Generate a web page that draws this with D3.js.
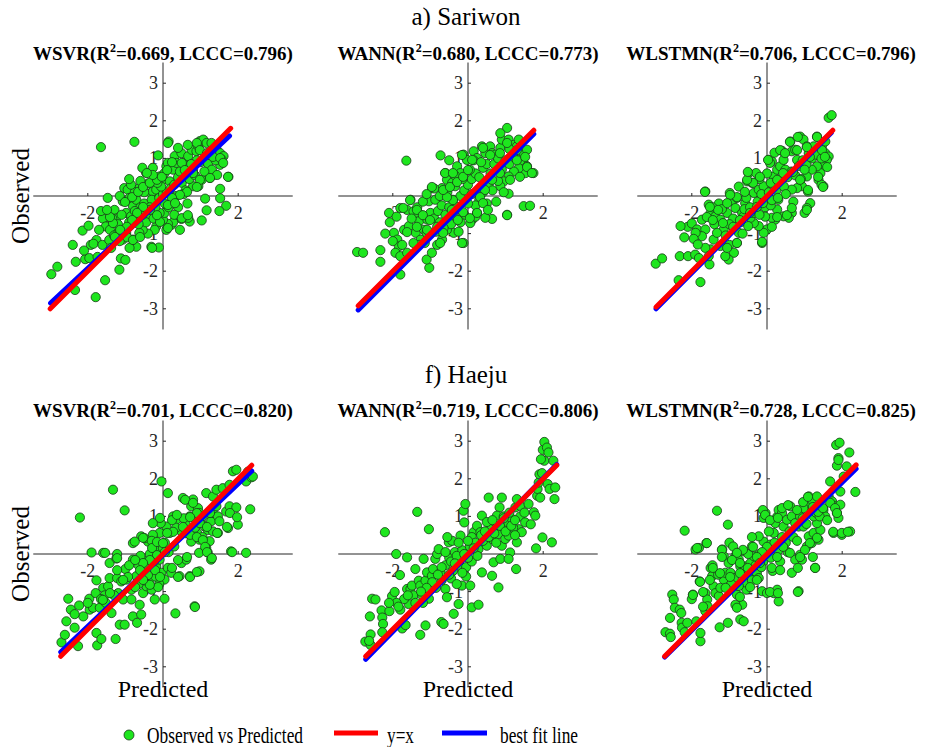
<!DOCTYPE html>
<html>
<head>
<meta charset="utf-8">
<script src="https://cdn.jsdelivr.net/npm/d3@7"></script>
<style>
body { margin:0; background:#fff; }
svg { display:block; font-family:"Liberation Serif","Times New Roman",serif; }
</style>
</head>
<body>
<svg id="chart" width="926" height="747"></svg>
<script>
// station headings and model names
var stations = ["a) Sariwon", "f) Haeju"]
var models = ["WSVR", "WANN", "WLSTMN"]
var r2 = [["0.669","0.680","0.706"], ["0.701","0.719","0.728"]]
var lccc = [["0.796","0.773","0.796"], ["0.820","0.806","0.825"]]

var xTicks = [-2, 0, 2]
var yTicks = [-3, -2, -1, 0, 1, 2, 3]

// [predicted, observed] pairs
var sariwonWSVR = [[-2.97,-2.08],[-2.81,-1.88],[-2.34,-2.5],[-1.79,-2.69],[-1.54,-2.24],[-2.32,-1.75],[-2.07,-1.68],[-1.96,-1.65],[-1.74,-1.62],[-2.14,-0.92],[-1.98,-0.79],[-1.77,-1.17],[-1.92,-1.3],[-1.85,-1.27],[-1.61,-1.3],[-1.56,-0.59],[-1.47,-0.05],[-1.6,-0.6],[-1.52,-0.81],[-1.41,-0.9],[-1.29,-0.37],[-1.25,-0.6],[-1.43,-1.17],[-1.38,-1.38],[-1.16,-1.96],[-1.12,-1.66],[-1.0,-1.7],[-1.03,0.21],[-0.94,0.17],[-1.07,-0.14],[-0.98,-0.45],[-0.85,-0.54],[-0.89,-0.05],[-0.8,-0.27],[-0.71,-0.1],[-0.63,0.21],[-0.45,0.62],[-0.4,0.33],[-0.31,0.08],[-0.27,0.12],[-0.18,0.17],[-0.27,0.75],[-0.13,1.08],[-0.09,0.52],[0,0.43],[0.04,0.61],[0.09,0.79],[0.13,0.88],[0.18,0.39],[0.27,0.7],[0.31,1.06],[0.36,0.88],[0.49,1.14],[0.54,0.88],[0.58,0.79],[0.62,0.61],[0.67,1.06],[0.76,1.23],[0.8,0.7],[0.89,1.19],[0.94,1.32],[0.98,1.46],[1.07,1.5],[1.16,1.41],[1.29,1.41],[1.34,1.1],[1.43,1.23],[1.52,1.14],[1.61,1.06],[1.52,0.83],[1.56,0.97],[1.74,0.51],[1.38,0.57],[1.25,0.48],[1.03,0.43],[0.94,0.26],[0.8,0.26],[1.52,0.19],[1.52,-0.06],[1.68,-0.26],[1.12,-0.07],[1.16,-0.38],[1.03,-0.65],[0.71,-0.68],[0.67,-0.58],[0.49,-0.61],[0.45,-0.9],[0.22,-0.77],[0.27,-0.7],[0.13,-0.74],[0.09,-0.9],[0,-0.63],[0.04,-0.45],[-0.09,-0.45],[-0.18,-0.81],[-0.22,-0.9],[-0.31,-1.35],[-0.11,-1.37],[-0.4,-1.0],[-0.54,-0.9],[-0.63,-0.98],[-0.71,-1.35],[-0.8,-1.16],[-0.89,-1.38],[-0.98,-0.98],[-1.07,-1.16],[-1.2,-0.98],[-0.6,-0.3],[-0.5,-0.2],[-0.4,-0.4],[-0.3,-0.1],[-0.2,-0.3],[-0.1,-0.05],[0,0.05],[0.1,0.1],[0.2,0.2],[0.3,0.3],[0.4,0.5],[0.5,0.35],[0.35,0.0],[0.25,-0.15],[0.15,-0.3],[0.05,-0.2],[-0.05,0.25],[-0.15,0.35],[-0.35,-0.55],[-0.45,-0.7],[-0.55,-0.5],[-0.7,-0.6],[-0.75,-0.4],[-0.65,-0.75],[-0.9,-0.7],[-1.1,-0.5],[-1.2,-0.75],[-1.3,-1.05],[-1.15,-1.2],[-0.95,-1.1],[-0.5,0.1],[-0.6,0.4],[-0.75,0.1],[-0.85,0.3],[-1.15,0.0],[0.6,0.15],[0.7,0.45],[0.85,0.55],[1.0,0.9],[1.1,1.0],[1.2,0.85],[1.3,0.7],[1.4,0.95],[1.1,0.65],[0.9,0.95],[0.75,0.85],[0.45,0.65],[0.55,0.05],[0.65,-0.2],[0.4,-0.3],[0.3,-0.5],[-0.25,-0.6],[-0.35,-0.3],[-2.4,-1.3],[-2.1,-1.45],[-1.7,-0.9],[-1.65,-0.4],[-1.35,-0.6],[-0.9,0.45],[-0.55,0.75],[-1.65,1.3],[-0.76,1.44],[0.15,1.45],[1.5,-0.4],
	[0.13,1.41],[0.4,1.28],[0.66,1.36],[0.9,1.41],[0.98,1.22],[1.17,1.14],[1.33,1.04],[1.52,1.01],[1.6,0.88],[1.73,0.51],[1.44,0.56],[1.25,0.48],[0.98,0.43],[0.9,0.24],[0.64,0.11],[0.45,0.03],[0.24,-0.05],[0.13,-0.24],[0.32,-0.19],[0.5,-0.59],[0.66,-0.51],[0.13,-0.85],[-0.08,-0.69],[-0.16,-0.51],[-0.35,-0.37],[-0.53,-0.29],[-0.69,-0.45],[-0.82,-0.64],[-0.96,-0.82],[-1.14,-0.9],[-1.33,-0.72],[-1.41,-0.56],[-1.49,-0.37],[-1.01,-0.16],[-0.82,-0.03],[-0.66,0.11],[-0.53,0.24],[-0.35,0.35],[-0.16,0.43],[-0.03,0.51],[-0.27,0.56],[-0.43,0.61],[0.11,0.69],[0.24,0.9],[0.5,0.88],[0.58,0.69],[0.8,0.61],[-0.8,-1.17],[-0.61,-1.09],[-0.29,-1.38],[-1.28,-1.09]]

var sariwonWANN = [[-2.95,-1.49],[-2.79,-1.51],[-2.33,-1.44],[-2.33,-1.75],[-2.08,-0.7],[-1.64,0.94],[-0.73,1.08],[-1.8,-2.09],[-1.03,-1.91],[-1.1,-1.69],[-1.53,-0.1],[-1.8,-0.32],[-1.62,-0.37],[-1.45,-0.41],[-1.32,-0.45],[-1.97,-0.98],[-1.88,-1.16],[-1.84,-1.34],[-1.93,-1.51],[-1.8,-1.6],[-1.62,-1.51],[-1.7,-0.9],[-1.57,-0.8],[-1.39,-0.98],[-1.26,-1.16],[-1.17,-0.9],[-1.3,-0.67],[-1.08,-0.63],[-1.0,-0.45],[-1.04,-0.14],[-0.87,-0.1],[-0.96,0.21],[-0.69,0.21],[-0.6,0.61],[-0.56,0.43],[-0.42,0.35],[-0.34,0.26],[-0.29,0.79],[-0.2,0.61],[-0.12,1.1],[-0.03,0.96],[0.15,1.19],[0.24,1.01],[0.37,1.32],[0.46,1.14],[0.59,1.32],[0.64,1.14],[0.73,1.1],[0.86,1.28],[0.9,1.5],[1.04,1.81],[0.86,1.67],[1.08,1.5],[1.22,1.36],[1.3,1.32],[1.39,1.19],[1.48,1.14],[1.57,1.23],[1.48,0.88],[1.57,0.79],[1.53,0.61],[1.74,0.61],[1.35,0.74],[1.22,0.65],[1.08,0.52],[0.95,0.39],[0.86,0.26],[1.08,0.06],[1.04,-0.5],[1.48,-0.27],[1.65,-0.26],[0.64,-0.61],[0.46,-0.58],[0.24,-0.45],[0.11,-0.63],[0.06,-0.72],[-0.12,-1.25],[-0.38,-0.98],[-0.56,-0.9],[-0.69,-1.16],[-0.82,-1.3],[-0.96,-1.51],[-1.1,-0.98],[-0.9,-0.6],[-0.8,-0.4],[-0.7,-0.25],[-0.6,-0.5],[-0.5,-0.3],[-0.4,-0.1],[-0.3,-0.35],[-0.2,0.0],[-0.1,0.15],[0,0.3],[0.1,0.45],[0.2,0.6],[0.3,0.5],[0.4,0.75],[0.5,0.85],[0.6,0.6],[0.7,0.85],[0.8,1.0],[0.9,0.7],[1.0,0.95],[1.1,0.85],[1.2,1.05],[1.3,0.95],[0.55,0.3],[0.4,0.1],[0.3,-0.1],[0.2,-0.25],[0.1,0.05],[0.0,-0.2],[-0.1,-0.5],[-0.2,-0.7],[-0.3,-0.6],[-0.45,-0.75],[-0.65,-0.85],[-0.75,-0.7],[-0.85,-0.95],[-1.0,-1.0],[-1.15,-1.25],[-1.3,-1.3],[-1.45,-1.25],[-1.5,-0.6],[-1.35,-0.3],[-1.2,-0.15],[-1.1,0.05],[-0.9,0.2],[-0.75,0.0],[-0.55,0.1],[-0.35,0.55],[-0.15,0.45],[0.05,0.7],[0.15,0.95],[0.35,0.9],[0.65,0.15],[0.8,0.4],[0.95,0.1],[0.75,-0.15],[0.5,-0.2],[-2.0,-1.2],[-2.2,-1.0],[-1.75,-1.3],[-2.1,-0.45],[-1.9,-0.55],[-0.5,0.95],[1.1,1.25],[1.35,1.5],[0.2,-0.55],[-0.25,-0.95],
	[-0.16,1.09],[0.11,0.96],[0.4,1.28],[0.59,1.09],[0.85,1.14],[1.04,1.41],[1.3,1.22],[1.52,1.04],[1.57,0.77],[1.7,0.61],[1.38,0.51],[1.12,0.43],[0.85,0.61],[0.64,0.43],[0.45,0.16],[0.32,-0.03],[0.4,-0.19],[0.53,-0.37],[1.04,-0.51],[0.24,-0.45],[0.05,-0.59],[-0.13,-0.43],[-0.29,-0.29],[-0.4,-0.11],[-0.56,-0.03],[-0.66,0.16],[-0.48,0.24],[-0.29,0.37],[-0.13,0.51],[0,0.69],[-0.61,0.61],[-0.4,0.61],[-0.96,0.24],[-1.54,-0.11],[-1.72,-0.32],[-1.36,-0.37],[-1.2,-0.51],[-1.01,-0.64],[-0.82,-0.82],[-0.66,-0.98],[-1.09,-0.9],[-1.36,-0.82],[-1.62,-0.96],[-0.16,-1.25],[-0.74,-1.25],[-0.43,-0.37],[-0.27,-0.64]]

var sariwonWLSTMN = [[-2.96,-1.8],[-2.79,-1.66],[-2.32,-1.6],[-2.35,-2.24],[-2.1,-1.6],[-1.91,-1.56],[-1.81,-1.65],[-1.77,-2.29],[-1.64,0.12],[-1.53,-1.82],[-2.11,-0.82],[-2.0,-0.73],[-1.86,-0.89],[-1.73,-0.63],[-1.64,-0.89],[-1.55,-0.23],[-1.5,-0.45],[-1.37,-0.54],[-1.28,-0.2],[-1.24,-0.63],[-1.15,-0.89],[-1.42,-1.16],[-1.5,-1.42],[-1.64,-1.38],[-1.73,-1.07],[-1.9,-0.98],[-1.95,-1.14],[-1.84,-1.29],[-1.06,-0.45],[-0.99,0.08],[-0.93,-0.14],[-0.84,-0.32],[-0.8,-0.05],[-0.66,-0.45],[-0.58,-0.19],[-0.53,0.39],[-0.49,0.61],[-0.29,0.61],[-0.35,0.08],[-0.22,0.17],[-0.13,-0.1],[-0.09,0.26],[0.04,0.96],[0.13,0.92],[0.18,0.52],[0.27,0.7],[0.35,0.79],[0.44,0.96],[0.49,0.7],[0.62,1.45],[0.66,1.19],[0.75,1.23],[0.8,0.96],[0.88,1.58],[0.97,1.5],[1.06,1.32],[1.11,1.14],[1.15,1.05],[1.24,1.32],[1.33,1.58],[1.46,1.32],[1.55,1.14],[1.64,1.05],[1.59,0.96],[1.5,0.79],[1.42,0.61],[1.37,0.43],[1.33,0.79],[1.19,0.7],[1.06,0.52],[0.93,0.26],[0.8,0.21],[0.66,0.17],[1.09,0.12],[1.15,-0.19],[1.06,-0.32],[1.0,-0.45],[0.66,-0.45],[0.58,-0.58],[0.44,-0.54],[0.27,-0.36],[0.22,-0.63],[0.13,-0.58],[0,-0.89],[-0.09,-0.98],[-0.13,-1.25],[-0.22,-0.8],[-0.35,-0.72],[-0.44,-0.58],[-0.62,-0.54],[-0.75,-0.98],[-0.8,-1.25],[-0.88,-1.51],[-1.02,-1.69],[-1.11,-1.6],[-1.24,-1.33],[-1.33,-0.98],[1.5,0.26],[1.45,0.3],[1.64,2.08],[1.72,2.15],[-0.9,-0.6],[-0.7,-0.7],[-0.6,-0.35],[-0.45,-0.3],[-0.35,-0.45],[-0.25,-0.15],[-0.15,0.05],[-0.05,-0.3],[0.05,0.1],[0.15,0.3],[0.25,0.15],[0.35,0.4],[0.45,0.25],[0.55,0.5],[0.65,0.65],[0.75,0.55],[0.85,0.8],[0.95,0.95],[1.05,0.85],[1.2,1.0],[1.3,1.1],[1.45,1.0],[1.55,1.45],[0.3,-0.1],[0.1,-0.25],[-0.05,-0.55],[-0.2,-0.5],[-0.5,-0.8],[-0.65,-1.0],[-1.0,-0.75],[-1.1,-1.05],[-1.2,-0.35],[-1.4,-0.75],[-1.45,-0.3],[-0.75,0.25],[-0.4,0.35],[-0.2,0.45],[0.0,0.6],[0.2,1.15],[0.4,1.2],[0.5,0.05],[0.7,-0.15],[0.9,0.45],[1.0,0.7],[-2.2,-1.1],[-2.3,-0.8],[-1.55,-1.6],[-1.0,-1.3],[0.1,0.35],[-0.55,-0.05],
	[-1.65,0.11],[0.61,1.44],[0.82,1.57],[1.33,1.57],[0.35,1.22],[0.48,1.14],[0.8,1.22],[1.06,1.3],[1.14,1.04],[1.46,1.22],[1.54,1.04],[1.6,0.77],[1.36,0.51],[1.49,0.24],[1.09,0.16],[0.88,0.43],[0.69,0.64],[0.43,0.61],[0.27,0.43],[0.08,0.88],[0.03,0.96],[-0.19,0.51],[-0.37,0.35],[-0.53,0.43],[-0.51,0.64],[-0.59,0.11],[-0.8,-0.03],[-0.98,0.03],[-1.06,-0.19],[-1.3,-0.37],[-1.52,-0.29],[-1.6,-0.56],[-1.44,-0.64],[-1.17,-0.72],[-0.9,-0.82],[-0.72,-0.64],[-0.45,-0.45],[-0.27,-0.29],[-0.11,-0.19],[0.13,-0.11],[0.29,-0.05],[0.27,-0.56],[0.53,-0.51],[0.66,-0.32],[1.06,-0.37],[0.13,-0.82],[-0.13,-1.22],[-0.8,-1.25],[-1.06,-1.38]]

var haejuWSVR = [[-2.21,0.97],[-1.33,1.71],[-1.02,1.16],[-0.04,1.93],[0.13,1.62],[-2.7,-2.35],[-2.61,-2.15],[-2.57,-1.79],[-2.52,-1.19],[-2.45,-1.48],[-2.35,-1.96],[-2.26,-2.45],[-2.23,-1.37],[-2.12,-1.66],[-1.96,-1.19],[-1.95,-1.48],[-1.86,-1.43],[-1.79,-1.04],[-1.77,-0.7],[-1.77,-2.1],[-1.75,-2.43],[-1.68,-1.43],[-1.64,-2.26],[-1.59,-0.9],[-1.52,-1.3],[-1.46,-0.86],[-1.42,-0.24],[-1.37,-1.57],[-1.42,-0.64],[-1.24,-0.12],[-1.26,-2.26],[-1.15,-1.88],[-1.02,-1.88],[-1.19,-1.04],[-1.06,-1.21],[-1.22,-0.64],[-1.11,-0.73],[-0.97,-0.68],[-0.84,-0.95],[-0.8,-0.15],[-0.71,-0.59],[-0.84,-1.21],[-0.8,-1.66],[-0.69,-1.83],[-0.62,-1.35],[-0.58,-1.61],[-0.53,-1.04],[-0.44,-0.86],[-0.35,-0.68],[-0.27,-0.5],[-0.22,-1.21],[-0.18,-0.33],[-0.09,-0.15],[-0.04,-0.5],[0.04,-0.68],[0.13,-0.37],[0.22,-0.5],[0.04,-1.19],[0.33,-1.58],[0.44,-0.59],[0.49,-0.24],[0.62,-0.15],[0.71,-0.59],[0.84,-1.39],[0.97,-0.46],[0.96,0.03],[0.75,0.33],[0.62,0.55],[0.49,0.6],[0.35,0.91],[0.27,1.0],[0.18,0.56],[0.09,0.73],[-0.06,0.82],[-0.09,0.56],[-0.18,0.25],[-0.27,0.51],[-0.4,0.33],[-0.58,0.47],[-0.49,0.42],[-0.8,0.29],[-0.75,0.33],[-1.9,0.04],[-1.59,0.03],[-1.22,0.0],[0.53,1.49],[0.8,1.45],[0.75,1.27],[0.71,1.0],[0.84,0.96],[0.93,1.22],[0.97,1.09],[1.02,0.82],[1.06,1.0],[1.11,0.73],[1.19,0.64],[1.28,0.87],[1.33,1.09],[1.42,1.27],[1.46,1.0],[1.5,0.87],[1.46,0.56],[1.33,0.6],[1.24,0.34],[1.15,0.16],[1.19,0.04],[1.28,-0.15],[0.91,0.56],[0.97,0.38],[1.15,1.62],[1.33,1.53],[1.42,1.71],[1.59,1.75],[1.77,1.84],[1.86,2.2],[1.95,2.24],[1.68,1.13],[1.77,1.27],[1.95,1.24],[1.99,0.78],[1.73,0.69],[1.81,0.07],[2.21,0.03],[2.32,1.19],[2.21,1.93],[2.35,2.04],[2.26,2.19],[2.39,2.06],[-1.0,-0.4],[-0.9,-0.3],[-0.65,-0.3],[-0.55,-0.15],[-0.45,-0.35],[-0.35,0.0],[-0.25,-0.2],[-0.15,0.1],[0.0,0.15],[0.05,0.3],[0.15,0.05],[0.3,0.2],[-0.1,-0.8],[-0.3,-0.95],[-0.5,-0.7],[-0.65,-0.8],[-0.2,-0.6],[0.6,0.8],[0.55,0.95],[0.85,0.7],[1.05,0.45],[-1.3,-1.1],[-1.55,-1.1],[-2.0,-1.3],[-2.35,-1.6],[-1.65,-1.2],[-0.6,-0.05],[-0.3,0.35],[0.35,0.7],
	[-0.27,0.82],[-0.08,0.96],[0.24,0.9],[0.37,1.04],[0.59,1.44],[0.8,1.36],[0.9,1.09],[0.72,0.98],[0.53,0.72],[0.27,0.59],[0.11,0.56],[0.98,0.82],[1.17,0.72],[0.72,0.51],[0.9,0.45],[1.06,0.37],[1.12,0.19],[1.17,0.05],[1.3,-0.11],[1.44,0.56],[1.25,1.09],[1.78,1.09],[1.97,0.98],[1.7,0.72],[1.84,0.05],[-0.53,0.43],[-0.29,0.16],[-0.16,0.32],[0,0.29],[0.05,0.05],[-0.16,-0.03],[-0.35,-0.16],[-0.53,-0.24],[-0.74,-0.16],[-0.61,-0.43],[-0.4,-0.56],[-0.21,-0.43],[-0.08,-0.61],[-0.13,-0.88],[-0.35,-0.82],[-0.53,-0.69],[-0.74,-0.88],[-0.93,-0.61],[-1.22,-0.43],[-1.22,-0.11],[-1.54,0.03],[-1.06,-0.69],[-1.41,-1.04],[-1.6,-1.22],[0.4,-0.16],[0.64,-0.08],[0.72,-0.61],[0.4,-0.61],[0.24,-0.37],[0.9,-0.48],[0.85,-1.41]]

var haejuWANN = [[-2.73,-2.33],[-2.59,-2.14],[-2.59,-2.42],[-2.63,-2.31],[-2.61,-1.66],[-2.55,-1.19],[-2.46,-1.21],[-2.3,-1.5],[-2.28,-1.69],[-2.26,-1.86],[-2.28,-2.08],[-2.21,0.58],[-2.09,-1.52],[-2.02,-1.12],[-1.95,-1.01],[-1.91,0.0],[-1.81,-0.56],[-1.8,-1.48],[-1.75,-1.98],[-1.66,-1.89],[-1.62,-0.09],[-1.62,-0.93],[-1.58,-1.33],[-1.4,-0.4],[-1.35,1.12],[-1.27,-2.15],[-1.18,-0.13],[-1.13,-1.9],[-1.04,0.66],[-1.04,-1.19],[-1.53,-0.93],[-1.49,-0.84],[-1.45,-1.1],[-1.31,-0.71],[-1.27,-0.84],[-1.22,-1.1],[-1.13,-0.71],[-1.09,-0.49],[-0.96,-0.58],[-0.93,-0.4],[-0.87,-0.13],[-0.82,0.0],[-0.78,0.13],[-0.73,-0.49],[-0.71,-1.81],[-0.65,-1.86],[-0.6,-0.93],[-0.56,-1.15],[-0.51,0.31],[-0.42,0.35],[-0.38,-1.59],[-0.25,-1.33],[-0.2,-0.31],[-0.16,-0.84],[-0.2,0.49],[-0.12,1.15],[-0.07,1.33],[-0.1,0.84],[0.06,-0.84],[0.1,-1.42],[0.28,-1.35],[0.15,0.58],[0.24,0.75],[0.37,1.02],[0.33,0.58],[0.28,0.13],[0.37,-0.49],[0.55,1.5],[0.64,-0.58],[0.68,-0.22],[0.81,-0.89],[0.86,-0.13],[0.9,1.5],[0.84,1.24],[0.77,1.02],[0.73,0.75],[0.59,0.66],[0.5,0.22],[0.64,0.4],[0.81,0.53],[0.9,0.22],[0.99,0.4],[1.08,0.49],[1.12,0.04],[1.08,-0.13],[1.28,-0.4],[1.3,0.31],[1.35,0.66],[1.43,0.58],[1.39,1.0],[1.26,1.24],[1.3,1.46],[1.39,1.28],[1.52,0.84],[1.61,1.33],[1.67,0.79],[1.75,1.11],[1.79,1.02],[1.84,1.55],[1.85,1.73],[1.88,1.9],[1.9,2.12],[1.97,2.15],[2.03,2.48],[1.99,2.77],[2.03,2.98],[2.1,2.83],[2.14,2.7],[1.94,2.52],[1.92,1.5],[1.81,0.15],[1.98,0.44],[2.23,0.31],[2.12,1.86],[2.17,1.73],[2.32,1.77],[2.3,1.46],[2.27,2.48],[-0.6,-0.3],[-0.5,-0.1],[-0.4,-0.45],[-0.35,0.05],[-0.25,-0.15],[-0.15,0.1],[-0.05,-0.35],[0.05,0.2],[0.1,0.45],[0.2,0.3],[0.4,0.35],[0.5,0.85],[0.65,0.9],[0.75,0.3],[0.95,0.7],[1.05,0.85],[1.15,0.95],[1.2,0.7],[1.25,0.5],[-0.7,-0.7],[-0.85,-0.9],[-1.0,-0.95],[-1.2,-1.3],[-1.4,-1.3],[-1.7,-1.2],[-1.9,-1.3],[-0.45,-0.65],[-0.3,-0.8],[-0.05,-0.6],[0.1,-0.2],[0.25,-0.05],[-0.6,0.05],[-0.55,0.45],[-0.25,0.3],[0.95,1.0],[1.1,1.1],[1.5,1.1],
	[-0.45,-0.2],[-0.3,-0.05],[-0.1,0.0],[0.0,0.35],[0.15,0.15],[0.35,0.5],[0.45,0.6],[0.55,0.45],[0.7,0.55],[0.85,0.75],[1.0,0.6],[1.15,0.75],[0.95,0.95],[1.25,0.9],[-0.7,-0.35],[-0.8,-0.55],[-0.95,-0.75],[-1.1,-0.9],[-0.5,-0.55],[-0.35,-0.25],[-0.15,-0.5],[0.0,-0.1],[-1.25,-1.0],[-1.6,-1.1],[-1.85,-1.4],[-2.1,-1.3]]

var haejuWLSTMN = [[-2.7,-2.08],[-2.58,-2.12],[-2.56,-2.21],[-2.58,-1.7],[-2.52,-1.08],[-2.48,-1.21],[-2.45,-1.43],[-2.32,-1.48],[-2.28,-1.57],[-2.27,-1.83],[-2.26,-1.96],[-2.19,0.62],[-2.19,-2.08],[-2.12,-1.83],[-1.97,-1.08],[-1.9,0.12],[-1.81,0.16],[-1.88,-1.79],[-1.79,-0.73],[-1.77,-2.32],[-1.77,-2.1],[-1.64,-1.52],[-1.61,0.29],[-1.64,-1.04],[-1.59,-1.21],[-1.58,-1.39],[-1.5,-0.37],[-1.46,-0.59],[-1.42,-0.86],[-1.37,-1.04],[-1.33,1.15],[-1.28,-1.12],[-1.24,-0.9],[-1.15,-0.68],[-1.11,-0.5],[-1.26,-1.95],[-1.19,0.12],[-1.15,-0.06],[-1.04,0.78],[-1.04,-1.83],[-1.02,-0.24],[-0.97,-0.5],[-0.88,-0.64],[-0.84,-0.06],[-0.8,0.03],[-0.75,-0.15],[-0.71,-0.33],[-0.66,-0.5],[-0.62,0.07],[-0.58,-0.33],[-0.55,-0.95],[-0.66,-1.35],[-0.8,-1.08],[-0.84,-1.35],[-0.8,-1.43],[-0.71,-1.74],[-0.62,-1.79],[-0.49,-0.55],[-0.44,-0.24],[-0.35,-0.06],[-0.27,-0.5],[-0.22,-0.64],[-0.13,-0.99],[0.0,-1.04],[0.18,-1.04],[0.27,-0.95],[0.31,-1.26],[-0.09,0.33],[-0.04,1.09],[-0.09,0.96],[-0.22,0.47],[0.09,0.25],[0.18,0.56],[0.22,0.82],[0.27,0.99],[0.31,1.17],[0.4,1.09],[0.44,0.73],[0.53,0.91],[0.62,1.27],[0.66,1.0],[0.75,0.82],[0.84,-0.99],[0.66,-0.5],[0.75,-0.15],[0.88,-0.02],[0.93,-0.15],[1.06,0.2],[1.11,0.47],[1.19,0.29],[1.24,0.56],[1.28,-0.37],[1.37,0.38],[1.42,0.64],[1.33,0.82],[1.24,1.0],[1.15,1.27],[1.06,1.35],[0.97,1.22],[0.88,1.0],[0.84,0.73],[0.97,0.73],[1.11,1.53],[1.19,1.44],[1.33,1.53],[1.5,1.17],[1.55,1.0],[1.64,1.53],[1.73,1.4],[1.77,0.56],[1.81,1.27],[1.86,1.09],[1.9,0.96],[1.95,1.31],[1.99,0.51],[2.21,0.6],[2.35,1.65],[1.95,1.66],[2.04,2.06],[2.12,2.33],[1.86,2.35],[1.9,2.55],[1.84,2.9],[1.93,2.96],[2.19,2.7],[1.9,2.5],[1.68,1.93],[-0.5,0.0],[-0.4,0.2],[-0.3,-0.3],[-0.2,0.0],[-0.1,-0.2],[0.0,0.1],[0.1,-0.1],[0.2,0.3],[0.3,0.1],[0.4,0.45],[0.5,0.3],[0.6,0.6],[0.7,0.45],[0.8,0.35],[0.55,0.05],[0.35,-0.2],[-0.6,-0.75],[-0.75,-0.85],[-0.95,-0.8],[-1.1,-0.9],[-1.3,-0.55],[-1.45,-0.3],[-1.0,0.3],[-0.9,0.2],[0.05,0.6],[-0.15,-0.35],[0.95,0.95],[1.05,0.8],[1.3,1.1],[1.4,1.0],[-1.7,-1.4],[-2.0,-1.2],[-0.4,-0.7],[0.15,-0.45],
	[-1.6,0.29],[-1.86,0.16],[-0.11,1.17],[-0.05,1.04],[0.08,0.9],[0.29,0.96],[0.4,1.22],[0.56,1.3],[0.8,1.17],[0.96,1.38],[1.09,1.52],[1.22,1.25],[1.36,1.12],[1.49,1.22],[1.68,1.36],[1.81,1.22],[1.86,1.09],[1.6,0.9],[1.76,0.59],[1.99,0.56],[2.15,0.59],[1.33,0.43],[1.14,0.29],[1.01,0.11],[0.88,-0.08],[1.22,-0.08],[1.28,-0.37],[0.82,-0.37],[0.61,0.03],[0.43,0.19],[0.27,-0.08],[0.13,-0.37],[0.35,-0.43],[0,0.19],[-0.13,0.05],[-0.27,-0.08],[-0.19,-0.24],[-0.37,0.19],[-0.4,0.45],[-0.64,0.11],[-0.8,0.03],[-0.93,-0.16],[-1.2,0.11],[-1.2,-0.08],[-0.72,-0.24],[-0.51,-0.37],[-0.72,-0.51],[-0.98,-0.61],[-1.25,-0.51],[-1.44,-0.37],[-1.52,-0.69],[-1.78,-0.74],[-1.7,-1.01],[-1.97,-1.09],[-0.27,-0.69],[-0.45,-0.88],[0.08,-1.01],[0.29,-1.04],[0.82,-1.01],[-0.72,-1.14]]

var points = [[sariwonWSVR, sariwonWANN, sariwonWLSTMN], [haejuWSVR, haejuWANN, haejuWLSTMN]]

// y=x segment: [x start, x end]
var identityRange = [[[-3.0,1.8],[-2.92,1.75],[-2.95,1.75]], [[-2.72,2.36],[-2.72,2.36],[-2.72,2.37]]]
// best fit segment: [[x0,y0],[x1,y1]]
var bestFit = [
	[[[-2.99,-2.85],[1.77,1.6]], [[-2.92,-3.03],[1.75,1.65]], [[-2.95,-3.0],[1.71,1.68]]],
	[[[-2.72,-2.61],[2.36,2.21]], [[-2.72,-2.8],[2.36,2.38]], [[-2.72,-2.74],[2.37,2.27]]]
]

var svg = d3.select("#chart")

var colX = [163, 468, 767]
var rowY = [196, 554]
var unit = 37.6
var axisCol = "#262626"

var line = d3.line()

for (var r = 0; r < 2; r++) {
	svg.append("text")
		.attr("x", 466).attr("y", r == 0 ? 25 : 383)
		.attr("text-anchor", "middle")
		.attr("font-size", 25)
		.text(stations[r])

	svg.append("text")
		.attr("transform", "translate(29," + (rowY[r]) + ") rotate(-90)")
		.attr("text-anchor", "middle")
		.attr("font-size", 25)
		.text("Observed")

	for (var c = 0; c < 3; c++) {
		var cx = colX[c], cy = rowY[r]
		var x = d3.scaleLinear().domain([-3.45, 3.45]).range([cx - 3.45*unit, cx + 3.45*unit])
		var y = d3.scaleLinear().domain([-3.55, 3.55]).range([cy + 3.55*unit, cy - 3.55*unit])
		var g = svg.append("g")

		// title with superscript
		var t = g.append("text")
			.attr("x", cx + (c == 2 ? 4 : 0)).attr("y", r == 0 ? 60 : 417)
			.attr("text-anchor", "middle")
			.attr("font-size", 19)
			.attr("font-weight", "bold")
		t.append("tspan").text(models[c] + "(R")
		t.append("tspan").attr("font-size", 12).attr("dy", -8).text("2")
		t.append("tspan").attr("dy", 8).text("=" + r2[r][c] + ", LCCC=" + lccc[r][c] + ")")

		// axes through the origin
		g.append("line")
			.attr("x1", x(-3.45)).attr("x2", x(3.45))
			.attr("y1", y(0)).attr("y2", y(0))
			.attr("stroke", axisCol).attr("stroke-width", 1)
		g.append("line")
			.attr("x1", x(0)).attr("x2", x(0))
			.attr("y1", y(-3.55)).attr("y2", y(3.55))
			.attr("stroke", axisCol).attr("stroke-width", 1)

		g.selectAll(".xt").data(xTicks).enter().append("line")
			.attr("x1", function(d){ return x(d) }).attr("x2", function(d){ return x(d) })
			.attr("y1", y(0)).attr("y2", y(0) - 3)
			.attr("stroke", axisCol)
		g.selectAll(".yt").data(yTicks).enter().append("line")
			.attr("x1", x(0)).attr("x2", x(0) + 3)
			.attr("y1", function(d){ return y(d) }).attr("y2", function(d){ return y(d) })
			.attr("stroke", axisCol)

		g.selectAll(".xl").data(xTicks.filter(function(d){ return d != 0 })).enter().append("text")
			.attr("x", function(d){ return x(d) })
			.attr("y", y(0) + 23)
			.attr("text-anchor", "middle")
			.attr("font-size", 18)
			.attr("fill", axisCol)
			.text(function(d){ return d })
		g.selectAll(".yl").data(yTicks.filter(function(d){ return d != 0 })).enter().append("text")
			.attr("x", x(0) - 5)
			.attr("y", function(d){ return y(d) + 6 })
			.attr("text-anchor", "end")
			.attr("font-size", 18)
			.attr("fill", axisCol)
			.text(function(d){ return d })

		g.selectAll("circle").data(points[r][c]).enter().append("circle")
			.attr("cx", function(d){ return x(d[0]) })
			.attr("cy", function(d){ return y(d[1]) })
			.attr("r", 4.6)
			.attr("fill", "#1ee61e")
			.attr("stroke", "#1a3a1a")
			.attr("stroke-width", 0.8)

		var bf = bestFit[r][c]
		g.append("path")
			.attr("d", line(bf.map(function(p){ return [x(p[0]), y(p[1])] })))
			.attr("stroke", "#0000ff").attr("stroke-width", 5).attr("stroke-linecap", "round")
			.attr("fill", "none")
		var ir = identityRange[r][c]
		g.append("path")
			.attr("d", line(ir.map(function(v){ return [x(v), y(v)] })))
			.attr("stroke", "#ff0000").attr("stroke-width", 5).attr("stroke-linecap", "round")
			.attr("fill", "none")

		if (r == 1) {
			g.append("text")
				.attr("x", cx).attr("y", 697)
				.attr("text-anchor", "middle")
				.attr("font-size", 24)
				.text("Predicted")
		}
	}
}

// legend
var leg = svg.append("g").attr("font-size", 23)
leg.append("circle").attr("cx", 129).attr("cy", 735).attr("r", 5)
	.attr("fill", "#1ee61e").attr("stroke", "#1a3a1a").attr("stroke-width", 0.8)
leg.append("text").attr("x", 147).attr("y", 743)
	.attr("textLength", 156).attr("lengthAdjust", "spacingAndGlyphs")
	.text("Observed vs Predicted")
leg.append("line").attr("x1", 334).attr("x2", 378).attr("y1", 733).attr("y2", 733)
	.attr("stroke", "#ff0000").attr("stroke-width", 5)
leg.append("text").attr("x", 387).attr("y", 743)
	.attr("textLength", 27).attr("lengthAdjust", "spacingAndGlyphs")
	.text("y=x")
leg.append("line").attr("x1", 442).attr("x2", 487).attr("y1", 733).attr("y2", 733)
	.attr("stroke", "#0000ff").attr("stroke-width", 5)
leg.append("text").attr("x", 500).attr("y", 743)
	.attr("textLength", 78).attr("lengthAdjust", "spacingAndGlyphs")
	.text("best fit line")
</script>
</body>
</html>
